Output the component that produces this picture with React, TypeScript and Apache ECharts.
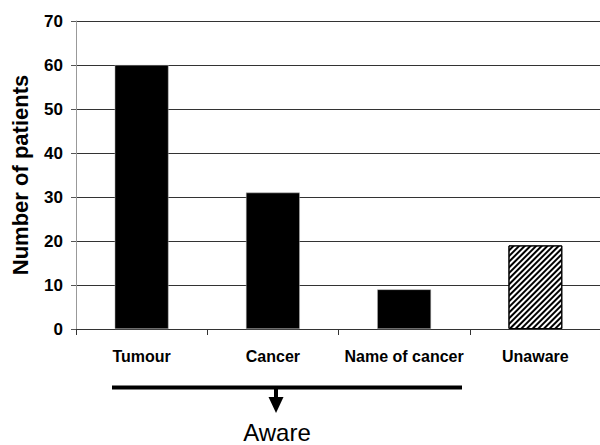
import React, { useEffect, useRef } from "react";
import * as echarts from "echarts";

const categories = ["Tumour", "Cancer", "Name of cancer", "Unaware"];
const patientCounts = [60, 31, 9, 19];
const hatched = [false, false, false, true];
const yTicks = [0, 10, 20, 30, 40, 50, 60, 70];
const bracketLabel = "Aware";
const yAxisTitle = "Number of patients";

const FONT = 'Arial, "Liberation Sans", Helvetica, sans-serif';

export default function App() {
  const ref = useRef<HTMLDivElement>(null);

  useEffect(() => {
    if (!ref.current) return;
    const chart = echarts.init(ref.current, undefined, { renderer: "svg" });

    const data = patientCounts.map((v, i) => {
      if (hatched[i]) {
        return {
          value: v,
          itemStyle: {
            color: "#ffffff",
            borderColor: "#000000",
            borderWidth: 1,
            decal: {
              symbol: "rect",
              color: "#000000",
              backgroundColor: "#ffffff",
              dashArrayX: [1, 0],
              dashArrayY: [1.2, 1.8],
              rotation: -Math.PI / 4,
            },
          },
        };
      }
      return { value: v, itemStyle: { color: "#000000", borderColor: "#bbbbbb", borderWidth: 0.5 } };
    });

    chart.setOption({
      animation: false,
      backgroundColor: "#ffffff",
      grid: {
        left: 76,
        right: -1,
        top: 21,
        bottom: 116,
        containLabel: false,
        outerBoundsMode: "none",
      },
      xAxis: {
        type: "category",
        data: categories,
        axisLine: { show: true, lineStyle: { color: "#333333", width: 1 } },
        axisTick: { show: true, length: 6, lineStyle: { color: "#333333" } },
        axisLabel: {
          margin: 19,
          color: "#000000",
          fontFamily: FONT,
          fontWeight: "bold",
          fontSize: 16,
          interval: 0,
        },
        splitLine: { show: false },
      },
      yAxis: {
        type: "value",
        min: yTicks[0],
        max: yTicks[yTicks.length - 1],
        interval: 10,
        name: yAxisTitle,
        nameLocation: "middle",
        nameGap: 45,
        nameTextStyle: {
          color: "#000000",
          fontFamily: FONT,
          fontWeight: "bold",
          fontSize: 22,
        },
        axisLine: { show: true, lineStyle: { color: "#999999", width: 1 } },
        axisTick: { show: true, length: 5, lineStyle: { color: "#555555" } },
        axisLabel: {
          margin: 13,
          color: "#000000",
          fontFamily: FONT,
          fontWeight: "bold",
          fontSize: 17,
        },
        splitLine: { show: true, lineStyle: { color: "#333333", width: 1 } },
      },
      series: [
        {
          type: "bar",
          data,
          barWidth: "41%",
        },
      ],
      graphic: [
        {
          type: "rect",
          shape: { x: 112, y: 385.5, width: 350, height: 4 },
          style: { fill: "#000000" },
        },
        {
          type: "rect",
          shape: { x: 274, y: 389, width: 4, height: 9 },
          style: { fill: "#000000" },
        },
        {
          type: "polygon",
          shape: { points: [[268.5, 397], [283.5, 397], [276, 413]] },
          style: { fill: "#000000" },
        },
        {
          type: "text",
          x: 277,
          y: 432,
          style: {
            text: bracketLabel,
            fill: "#000000",
            font: `24px ${FONT}`,
            textAlign: "center",
            textVerticalAlign: "middle",
          },
        },
      ],
    });

    return () => chart.dispose();
  }, []);

  return (
    <div
      ref={ref}
      style={{ position: "absolute", left: 0, top: 0, width: 600, height: 445 }}
    />
  );
}
